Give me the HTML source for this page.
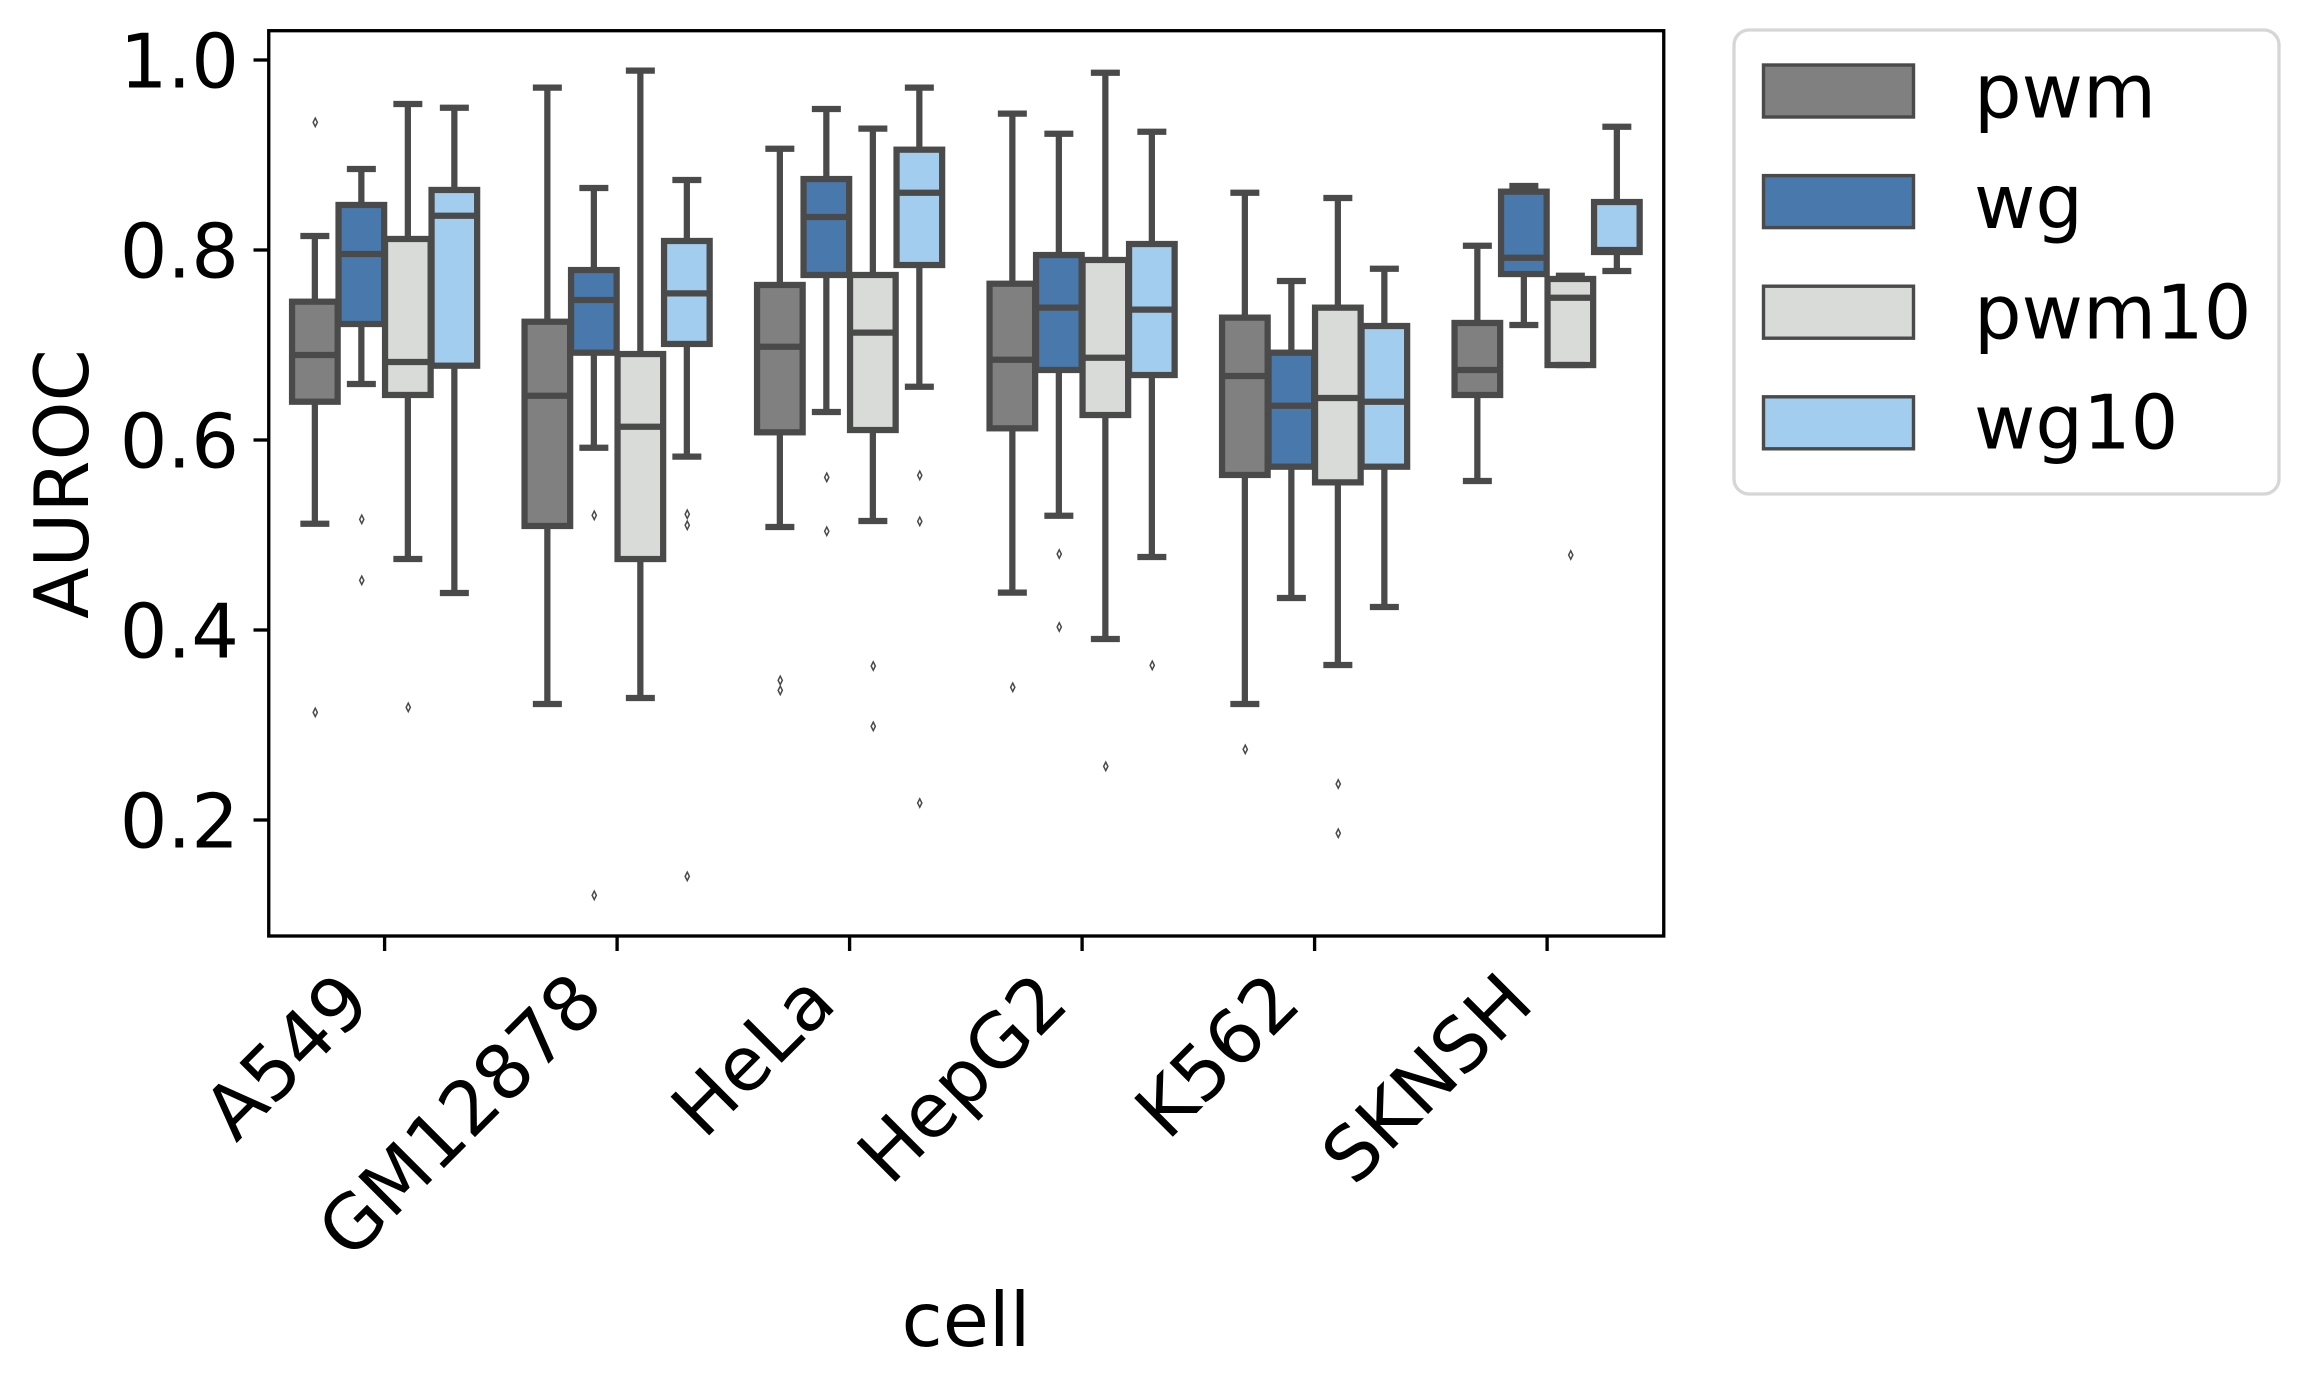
<!DOCTYPE html>
<html lang="en">
<head>
<meta charset="utf-8">
<title>AUROC by cell type</title>
<style>
  html, body { margin: 0; padding: 0; background: #ffffff; }
  body { width: 2310px; height: 1392px; overflow: hidden; }
  svg { display: block; }
  text { font-family: "DejaVu Sans", "Liberation Sans", sans-serif; font-size: 75px; fill: #000000; }
</style>
</head>
<body>
<svg id="chart" xmlns="http://www.w3.org/2000/svg" width="2310" height="1392" viewBox="0 0 2310 1392">
  <rect x="0" y="0" width="2310" height="1392" fill="#ffffff"/>
  <g id="marks"></g>
  <rect x="268.75" y="30.7" width="1395" height="905.3" fill="none" stroke="#000000" stroke-width="3.33"/>
  <g id="axes"></g>
  <text x="966" y="1346" text-anchor="middle">cell</text>
  <text x="88" y="484" text-anchor="middle" transform="rotate(-90 88 484)">AUROC</text>
  <g>
    <rect x="1734" y="30" width="545" height="464" rx="15" ry="15" fill="#ffffff" stroke="#d6d6d6" stroke-width="3.33"/>
    <g>
      <rect x="1763.5" y="65" width="150" height="52" fill="#808080" stroke="#4a4a4a" stroke-width="3.4"/>
      <text x="1974" y="117.3">pwm</text>
    </g>
    <g>
      <rect x="1763.5" y="175.6" width="150" height="52" fill="#4878ac" stroke="#4a4a4a" stroke-width="3.4"/>
      <text x="1974" y="228">wg</text>
    </g>
    <g>
      <rect x="1763.5" y="286.2" width="150" height="52" fill="#d9dbd8" stroke="#4a4a4a" stroke-width="3.4"/>
      <text x="1974" y="338.3">pwm10</text>
    </g>
    <g>
      <rect x="1763.5" y="396.8" width="150" height="52" fill="#a2cdef" stroke="#4a4a4a" stroke-width="3.4"/>
      <text x="1974" y="448.3">wg10</text>
    </g>
  </g>
</svg>
<script>
const categories = ["A549", "GM12878", "HeLa", "HepG2", "K562", "SKNSH"];
const seriesNames = ["pwm", "wg", "pwm10", "wg10"];
const seriesColors = ["#808080", "#4878ac", "#d9dbd8", "#a2cdef"];
const yTickValues = [1.0, 0.8, 0.6, 0.4, 0.2];
const yTickLabels = ["1.0", "0.8", "0.6", "0.4", "0.2"];

const pwmWhiskerHigh = [0.8147, 0.9709, 0.9066, 0.9435, 0.8603, 0.8045];
const pwmQ3 = [0.7456, 0.7245, 0.7632, 0.7645, 0.7288, 0.7232];
const pwmMedian = [0.6895, 0.6466, 0.6982, 0.6845, 0.6674, 0.6737];
const pwmQ1 = [0.6403, 0.5095, 0.6081, 0.6123, 0.5632, 0.6474];
const pwmWhiskerLow = [0.5119, 0.3221, 0.5084, 0.4393, 0.3221, 0.5568];
const pwmFliers = [[0.9344, 0.3133], [], [0.3470, 0.3365], [0.3397], [0.2744], []];

const wgWhiskerHigh = [0.8853, 0.8653, 0.9484, 0.9224, 0.7674, 0.8674];
const wgQ3 = [0.8474, 0.7789, 0.8747, 0.7947, 0.6919, 0.8614];
const wgMedian = [0.7958, 0.7474, 0.8347, 0.7393, 0.6361, 0.7919];
const wgQ1 = [0.7221, 0.6919, 0.7737, 0.6737, 0.5719, 0.7747];
const wgWhiskerLow = [0.6589, 0.5919, 0.6295, 0.5203, 0.4337, 0.7211];
const wgFliers = [[0.5165, 0.4523], [0.5207, 0.1207], [0.5607, 0.5039], [0.4800, 0.4032], [], []];

const pwm10WhiskerHigh = [0.9537, 0.9888, 0.9277, 0.9866, 0.8547, 0.7729];
const pwm10Q3 = [0.8116, 0.6905, 0.7737, 0.7895, 0.7393, 0.7695];
const pwm10Median = [0.6821, 0.6140, 0.7130, 0.6866, 0.6442, 0.7498];
const pwm10Q1 = [0.6474, 0.4747, 0.6105, 0.6263, 0.5554, 0.6789];
const pwm10WhiskerLow = [0.4747, 0.3284, 0.5147, 0.3905, 0.3632, 0.6789];
const pwm10Fliers = [[0.3186], [], [0.3621, 0.2986], [0.2565], [0.2379, 0.1860], [0.4789]];

const wg10WhiskerHigh = [0.9498, 0.8737, 0.9709, 0.9245, 0.7803, 0.9298];
const wg10Q3 = [0.8632, 0.8095, 0.9056, 0.8063, 0.7200, 0.8505];
const wg10Median = [0.8361, 0.7544, 0.8603, 0.7372, 0.6403, 0.8000];
const wg10Q1 = [0.6782, 0.7011, 0.7842, 0.6684, 0.5719, 0.7979];
const wg10WhiskerLow = [0.4389, 0.5825, 0.6561, 0.4768, 0.4242, 0.7779];
const wg10Fliers = [[], [0.5218, 0.5102, 0.1407], [0.5628, 0.5144, 0.2179], [0.3628], [], []];

const whiskerHighBySeries = [pwmWhiskerHigh, wgWhiskerHigh, pwm10WhiskerHigh, wg10WhiskerHigh];
const q3BySeries = [pwmQ3, wgQ3, pwm10Q3, wg10Q3];
const medianBySeries = [pwmMedian, wgMedian, pwm10Median, wg10Median];
const q1BySeries = [pwmQ1, wgQ1, pwm10Q1, wg10Q1];
const whiskerLowBySeries = [pwmWhiskerLow, wgWhiskerLow, pwm10WhiskerLow, wg10WhiskerLow];
const fliersBySeries = [pwmFliers, wgFliers, pwm10Fliers, wg10Fliers];

const SVG_NS = "http://www.w3.org/2000/svg";
const LINE_COLOR = "#4a4a4a";
const LINE_WIDTH = 6.25;
const BOX_WIDTH = 45.6;
const CAP_WIDTH = 29;

function yScale(v) { return 60 + (1 - v) * 950; }
function xBand(i) { return 384.6 + 232.5 * i; }
function xDodge(i, s) { return xBand(i) + (s - 1.5) * 46.5; }

function make(tag, attrs, parent) {
  const el = document.createElementNS(SVG_NS, tag);
  Object.keys(attrs).forEach(function (k) { el.setAttribute(k, attrs[k]); });
  parent.appendChild(el);
  return el;
}

const marks = document.getElementById("marks");
const axes = document.getElementById("axes");

categories.forEach(function (cat, i) {
  const group = make("g", {}, marks);
  
  

  seriesNames.forEach(function (name, s) {
    const cx = xDodge(i, s);
    const box = make("g", {}, group);
    
    

    const yHigh = yScale(whiskerHighBySeries[s][i]);
    const yQ3 = yScale(q3BySeries[s][i]);
    const yMed = yScale(medianBySeries[s][i]);
    const yQ1 = yScale(q1BySeries[s][i]);
    const yLow = yScale(whiskerLowBySeries[s][i]);

    const body = make("rect", { x: cx - BOX_WIDTH / 2, y: yQ3, width: BOX_WIDTH, height: yQ1 - yQ3, fill: seriesColors[s], stroke: LINE_COLOR, "stroke-width": LINE_WIDTH }, box);
    
    

    const whiskerTop = make("line", { x1: cx, x2: cx, y1: yQ3, y2: yHigh, stroke: LINE_COLOR, "stroke-width": LINE_WIDTH }, box);
    
    

    const whiskerBottom = make("line", { x1: cx, x2: cx, y1: yQ1, y2: yLow, stroke: LINE_COLOR, "stroke-width": LINE_WIDTH }, box);
    
    

    const capTop = make("line", { x1: cx - CAP_WIDTH / 2, x2: cx + CAP_WIDTH / 2, y1: yHigh, y2: yHigh, stroke: LINE_COLOR, "stroke-width": LINE_WIDTH }, box);
    
    

    const capBottom = make("line", { x1: cx - CAP_WIDTH / 2, x2: cx + CAP_WIDTH / 2, y1: yLow, y2: yLow, stroke: LINE_COLOR, "stroke-width": LINE_WIDTH }, box);
    
    

    const medianLine = make("line", { x1: cx - BOX_WIDTH / 2, x2: cx + BOX_WIDTH / 2, y1: yMed, y2: yMed, stroke: LINE_COLOR, "stroke-width": LINE_WIDTH }, box);
    
    

    fliersBySeries[s][i].forEach(function (v) {
      const fy = yScale(v);
      const fx = cx + 0.4;
      const pts = [[fx, fy - 4.2], [fx + 2.1, fy], [fx, fy + 4.2], [fx - 2.1, fy]].join(" ");
      const flier = make("polygon", { points: pts, fill: "#ffffff", stroke: LINE_COLOR, "stroke-width": 1.5 }, box);
      
      
    });
  });

  const tx = xBand(i);
  const tick = make("line", { x1: tx, x2: tx, y1: 936, y2: 951, stroke: "#000000", "stroke-width": 3.33 }, axes);
  
  

  const bx = tx - 11;
  const by = 1006;
  const label = make("text", { x: bx, y: by, "text-anchor": "end", transform: "rotate(-45 " + bx + " " + by + ")" }, axes);
  
  
  label.textContent = cat;
});

yTickValues.forEach(function (v, k) {
  const ty = yScale(v);
  const tick = make("line", { x1: 253.5, x2: 268.75, y1: ty, y2: ty, stroke: "#000000", "stroke-width": 3.33 }, axes);
  
  

  const label = make("text", { x: 239, y: ty + 27.5, "text-anchor": "end" }, axes);
  
  
  label.textContent = yTickLabels[k];
});
</script>
</body>
</html>
